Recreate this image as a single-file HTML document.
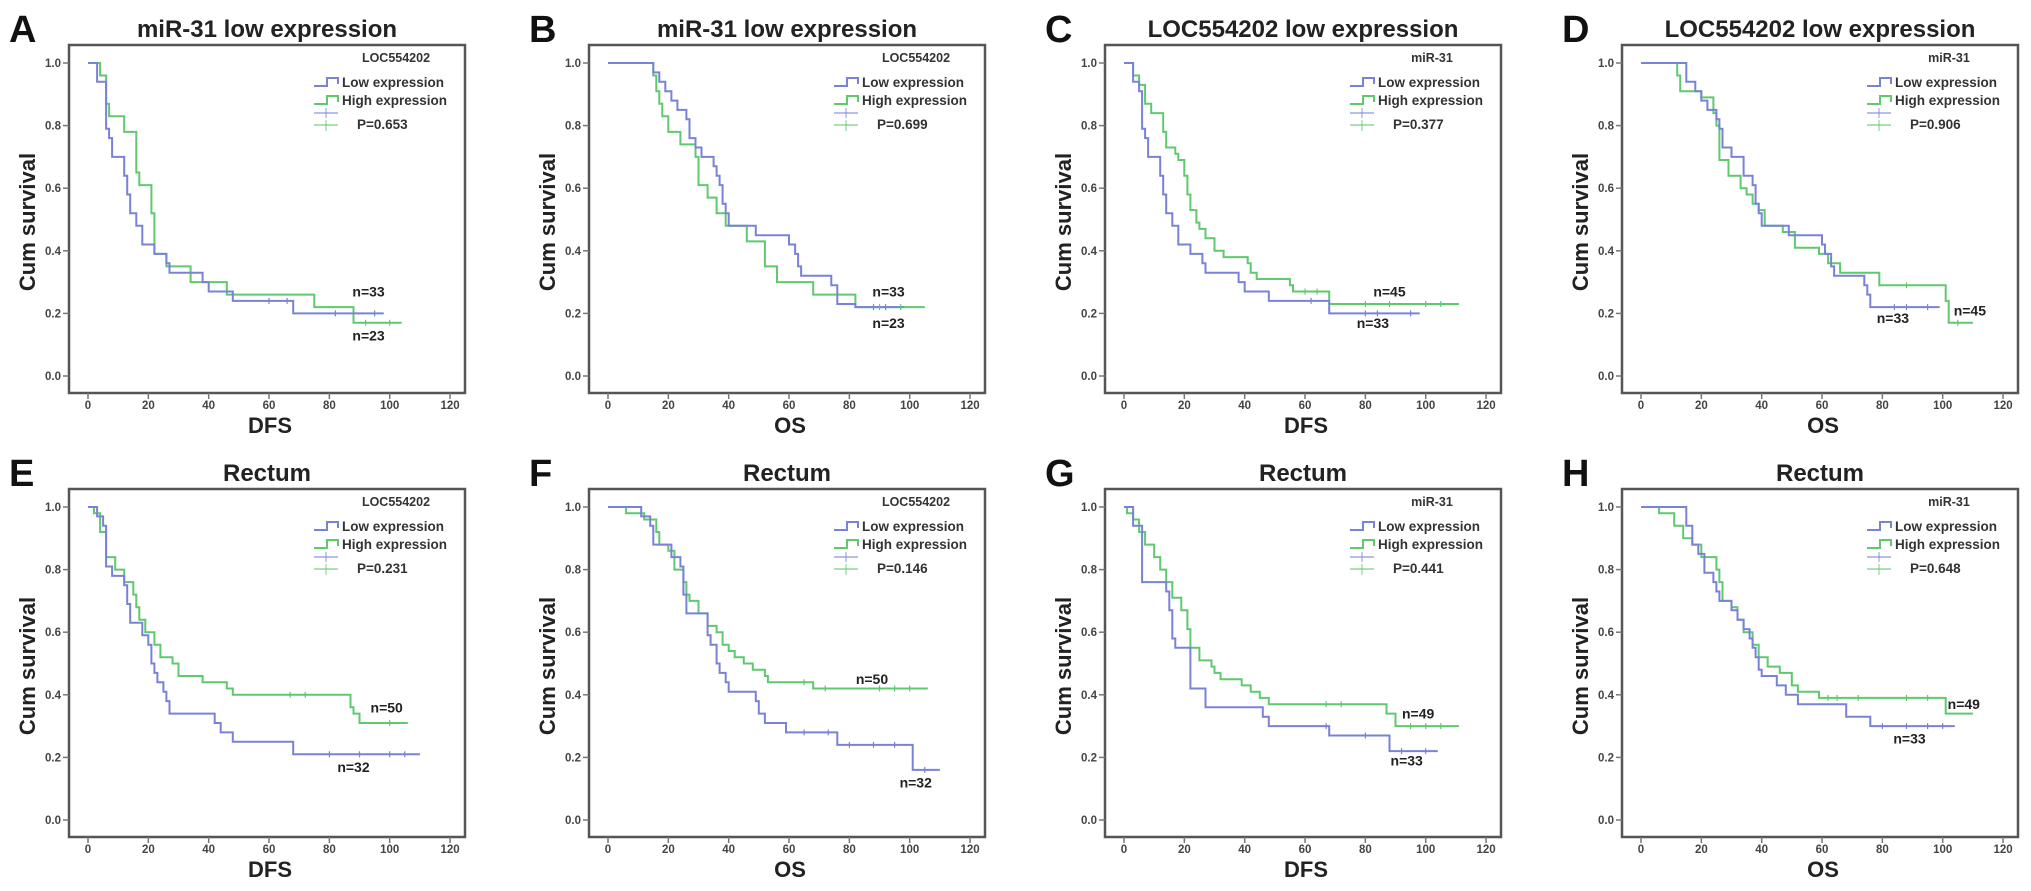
<!DOCTYPE html>
<html><head><meta charset="utf-8">
<style>
html,body{margin:0;padding:0;background:#fff;}
svg{display:block;font-family:"Liberation Sans",Arial,sans-serif;}
</style></head>
<body>
<svg id="fig" width="2031" height="891" viewBox="0 0 2031 891" xmlns="http://www.w3.org/2000/svg"></svg>
<script>
// ---- data (time, survival after drop) ----
const xTicks = [0,20,40,60,80,100,120];
const yTicks = [0.0,0.2,0.4,0.6,0.8,1.0];
const panelLetters = ["A","B","C","D","E","F","G","H"];
const panelTitles = ["miR-31 low expression","miR-31 low expression","LOC554202 low expression","LOC554202 low expression","Rectum","Rectum","Rectum","Rectum"];
const xLabels = ["DFS","OS","DFS","OS","DFS","OS","DFS","OS"];
const legendTitles = ["LOC554202","LOC554202","miR-31","miR-31","LOC554202","LOC554202","miR-31","miR-31"];
const pValues = ["P=0.653","P=0.699","P=0.377","P=0.906","P=0.231","P=0.146","P=0.441","P=0.648"];

const lowTimes = [
 [3,6,7,8,12,13,14,16,18,22,26,27,38,40,48,68],
 [15,17,19,21,23,26,27,29,31,35,36,37,38,39,40,49,60,62,63,64,74,76,82],
 [3,5,6,7,8,12,13,14,16,18,22,26,27,38,40,48,68],
 [15,18,20,22,25,26,27,30,34,37,38,39,40,49,60,61,63,64,74,75,76],
 [3,5,6,8,12,13,14,18,20,21,22,23,25,26,27,42,44,48,68],
 [11,14,15,21,24,25,26,33,34,36,37,39,40,49,50,52,59,76,101],
 [3,6,14,15,16,17,22,27,46,48,68,88],
 [15,17,19,21,24,25,26,30,32,34,36,37,38,39,40,45,48,52,68,76]
];
const lowSurv = [
 [0.94,0.79,0.76,0.70,0.64,0.58,0.52,0.48,0.42,0.39,0.36,0.33,0.30,0.27,0.24,0.20],
 [0.97,0.94,0.91,0.88,0.85,0.82,0.76,0.73,0.70,0.67,0.64,0.61,0.55,0.52,0.48,0.45,0.42,0.39,0.35,0.32,0.29,0.23,0.22],
 [0.94,0.91,0.79,0.76,0.70,0.64,0.58,0.52,0.48,0.42,0.39,0.36,0.33,0.30,0.27,0.24,0.20],
 [0.94,0.91,0.88,0.85,0.82,0.79,0.73,0.70,0.64,0.61,0.55,0.52,0.48,0.45,0.42,0.39,0.35,0.32,0.29,0.26,0.22],
 [0.97,0.94,0.81,0.78,0.75,0.69,0.63,0.59,0.56,0.50,0.47,0.44,0.41,0.38,0.34,0.31,0.28,0.25,0.21],
 [0.97,0.94,0.88,0.84,0.81,0.72,0.66,0.59,0.56,0.50,0.47,0.44,0.41,0.38,0.34,0.31,0.28,0.24,0.16],
 [0.94,0.76,0.73,0.67,0.58,0.55,0.42,0.36,0.33,0.30,0.27,0.22],
 [0.94,0.88,0.85,0.79,0.76,0.73,0.70,0.67,0.64,0.61,0.58,0.55,0.52,0.48,0.46,0.43,0.40,0.37,0.33,0.30]
];
const lowEnd = [98,98,98,99,110,110,104,104];

const highTimes = [
 [4,6,7,12,16,17,21,22,26,34,46,75,88],
 [15,16,17,18,20,24,29,30,33,36,39,46,52,56,68,82],
 [3,5,7,9,13,14,17,18,20,21,22,24,25,27,30,33,41,42,44,55,56,68],
 [12,13,20,24,25,26,29,33,35,37,39,41,47,51,59,62,66,79,101,102],
 [2,4,6,9,12,15,16,17,19,22,24,28,30,38,46,48,87,88,90],
 [6,12,16,17,20,22,25,26,27,30,33,36,38,40,42,45,48,52,53,68],
 [1,3,5,7,10,12,14,16,19,21,22,25,29,30,32,39,42,45,48,87,90],
 [6,11,14,17,20,25,26,27,30,32,34,37,39,42,46,50,52,59,101]
];
const highSurv = [
 [0.96,0.87,0.83,0.78,0.65,0.61,0.52,0.39,0.35,0.30,0.26,0.22,0.17],
 [0.96,0.91,0.87,0.83,0.78,0.74,0.70,0.61,0.57,0.52,0.48,0.43,0.35,0.30,0.26,0.22],
 [0.96,0.93,0.87,0.84,0.78,0.73,0.71,0.69,0.64,0.58,0.53,0.49,0.47,0.44,0.40,0.38,0.36,0.33,0.31,0.29,0.27,0.23],
 [0.96,0.91,0.89,0.84,0.80,0.69,0.64,0.60,0.58,0.55,0.53,0.48,0.46,0.41,0.39,0.36,0.33,0.29,0.24,0.17],
 [0.98,0.92,0.84,0.80,0.76,0.72,0.68,0.64,0.60,0.56,0.52,0.50,0.46,0.44,0.42,0.40,0.36,0.34,0.31],
 [0.98,0.96,0.92,0.88,0.86,0.80,0.76,0.72,0.70,0.66,0.62,0.60,0.56,0.54,0.52,0.50,0.48,0.46,0.44,0.42],
 [0.98,0.96,0.92,0.88,0.84,0.80,0.76,0.71,0.67,0.61,0.55,0.51,0.49,0.47,0.45,0.43,0.41,0.39,0.37,0.34,0.30],
 [0.98,0.94,0.90,0.88,0.84,0.80,0.76,0.70,0.68,0.64,0.60,0.56,0.52,0.49,0.47,0.43,0.41,0.39,0.34]
];
const highEnd = [104,105,111,110,106,106,111,110];

const lowCensor = [[60,66,82,95],[88,92],[62,80,84,95],[84,88,95],[80,90,100,105],[65,73,80,88,95,105],[67,80,92,100],[80,88,95,100]];
const highCensor = [[92,100],[90,97],[60,64,80,88,100,105],[88,105],[67,72,100],[65,72,90,95,100],[67,72,95,100,105],[62,65,72,88,95]];

const nLowLabels = ["n=33","n=33","n=33","n=33","n=32","n=32","n=33","n=33"];
const nHighLabels = ["n=23","n=23","n=45","n=45","n=50","n=50","n=49","n=49"];
const nLowPos = [[93,0.27],[93,0.27],[82.5,0.17],[83.5,0.185],[88,0.17],[102,0.12],[93.7,0.19],[89,0.26]];
const nHighPos = [[93,0.13],[93,0.17],[88,0.27],[109,0.21],[99,0.36],[87.5,0.45],[97.5,0.34],[107,0.37]];

// ---- layout ----
const NS = "http://www.w3.org/2000/svg";
const svg = document.getElementById('fig');
const colOff = [0,520,1036,1553];
const rowOff = [0,444];
const BLUE = "#7a82d8", GREEN = "#5fc96e";

function mk(tag, attrs, parent, text){
  const e = document.createElementNS(NS, tag);
  for (const k in attrs) e.setAttribute(k, attrs[k]);
  if (text !== undefined) e.textContent = text;
  (parent||svg).appendChild(e);
  return e;
}

function stepPath(times, surv, end, sx, sy){
  let d = "M" + sx(0) + "," + sy(1);
  let cur = 1;
  for (let i=0;i<times.length;i++){
    d += " H" + sx(times[i]).toFixed(1) + " V" + sy(surv[i]).toFixed(1);
    cur = surv[i];
  }
  d += " H" + sx(end).toFixed(1);
  return d;
}
function survAt(times, surv, t){
  let s = 1;
  for (let i=0;i<times.length;i++){ if (times[i] <= t) s = surv[i]; }
  return s;
}

for (let p=0;p<8;p++){
  const ox = colOff[p%4], oy = rowOff[Math.floor(p/4)];
  const g = mk('g', {transform:`translate(${ox},${oy})`});
  
  
  const sx = t => 88 + t*3.017;
  const sy = v => 376 - v*313;

  const letter = mk('text', {x:9, y:42, 'font-size':38, 'font-weight':'bold', fill:'#111'}, g, panelLetters[p]);
  
  

  const title = mk('text', {x:267, y:37, 'font-size':24, 'font-weight':'bold', 'text-anchor':'middle', fill:'#222'}, g, panelTitles[p]);
  
  

  const frame = mk('rect', {x:69, y:45, width:396, height:348, fill:'none', stroke:'#555', 'stroke-width':2.5}, g);
  
  

  yTicks.forEach(v=>{
    mk('line', {x1:63, x2:69, y1:sy(v), y2:sy(v), stroke:'#777', 'stroke-width':1.5}, g);
    const t = mk('text', {x:61, y:sy(v)+4, 'font-size':11.5, 'font-weight':'bold', 'text-anchor':'end', fill:'#444'}, g, v.toFixed(1));
    
    
  });
  xTicks.forEach(v=>{
    mk('line', {x1:sx(v), x2:sx(v), y1:393, y2:399, stroke:'#777', 'stroke-width':1.5}, g);
    const t = mk('text', {x:sx(v), y:409, 'font-size':11.5, 'font-weight':'bold', 'text-anchor':'middle', fill:'#444'}, g, String(v));
    
    
  });

  const yl = mk('text', {x:0, y:0, transform:'translate(35,222) rotate(-90)', 'font-size':22, 'font-weight':'bold', 'text-anchor':'middle', fill:'#222'}, g, 'Cum survival');
  
  
  const xl = mk('text', {x:270, y:433, 'font-size':22, 'font-weight':'bold', 'text-anchor':'middle', fill:'#222'}, g, xLabels[p]);
  
  

  const hp = mk('path', {d:stepPath(highTimes[p], highSurv[p], highEnd[p], sx, sy), fill:'none', stroke:GREEN, 'stroke-width':2}, g);
  
  
  const lp = mk('path', {d:stepPath(lowTimes[p], lowSurv[p], lowEnd[p], sx, sy), fill:'none', stroke:BLUE, 'stroke-width':2}, g);
  
  

  lowCensor[p].forEach(t=>{
    const y = sy(survAt(lowTimes[p], lowSurv[p], t));
    const c = mk('line', {x1:sx(t), x2:sx(t), y1:y-3, y2:y+3, stroke:BLUE, 'stroke-width':1.2}, g);
    
    
  });
  highCensor[p].forEach(t=>{
    const y = sy(survAt(highTimes[p], highSurv[p], t));
    const c = mk('line', {x1:sx(t), x2:sx(t), y1:y-3, y2:y+3, stroke:GREEN, 'stroke-width':1.2}, g);
    
    
  });

  const nl = mk('text', {x:sx(nLowPos[p][0]), y:sy(nLowPos[p][1])+5, 'font-size':14, 'font-weight':'bold', 'text-anchor':'middle', fill:'#222'}, g, nLowLabels[p]);
  
  
  const nh = mk('text', {x:sx(nHighPos[p][0]), y:sy(nHighPos[p][1])+5, 'font-size':14, 'font-weight':'bold', 'text-anchor':'middle', fill:'#222'}, g, nHighLabels[p]);
  
  

  // legend
  const lg = mk('g', {}, g);
  
  
  const lt = mk('text', {x:396, y:62, 'font-size':12.5, 'font-weight':'bold', 'text-anchor':'middle', fill:'#333'}, lg, legendTitles[p]);
  
  
  mk('path', {d:'M314,86 H327 V78 H338 V84', fill:'none', stroke:BLUE, 'stroke-width':2}, lg);
  const l1 = mk('text', {x:342, y:87, 'font-size':13.5, 'font-weight':'bold', fill:'#333'}, lg, 'Low expression');
  
  
  mk('path', {d:'M314,104 H327 V96 H338 V102', fill:'none', stroke:GREEN, 'stroke-width':2}, lg);
  const l2 = mk('text', {x:342, y:105, 'font-size':13.5, 'font-weight':'bold', fill:'#333'}, lg, 'High expression');
  
  
  mk('line', {x1:314, x2:338, y1:113, y2:113, stroke:BLUE, 'stroke-width':1.5, opacity:0.7}, lg);
  mk('line', {x1:326, x2:326, y1:108, y2:118, stroke:BLUE, 'stroke-width':1.2, opacity:0.7}, lg);
  mk('line', {x1:314, x2:338, y1:125, y2:125, stroke:GREEN, 'stroke-width':1.5, opacity:0.7}, lg);
  mk('line', {x1:326, x2:326, y1:120, y2:131, stroke:GREEN, 'stroke-width':1.2, opacity:0.7}, lg);
  const pv = mk('text', {x:357, y:129, 'font-size':13.5, 'font-weight':'bold', fill:'#333'}, lg, pValues[p]);
  
  
}
</script>
</body></html>
